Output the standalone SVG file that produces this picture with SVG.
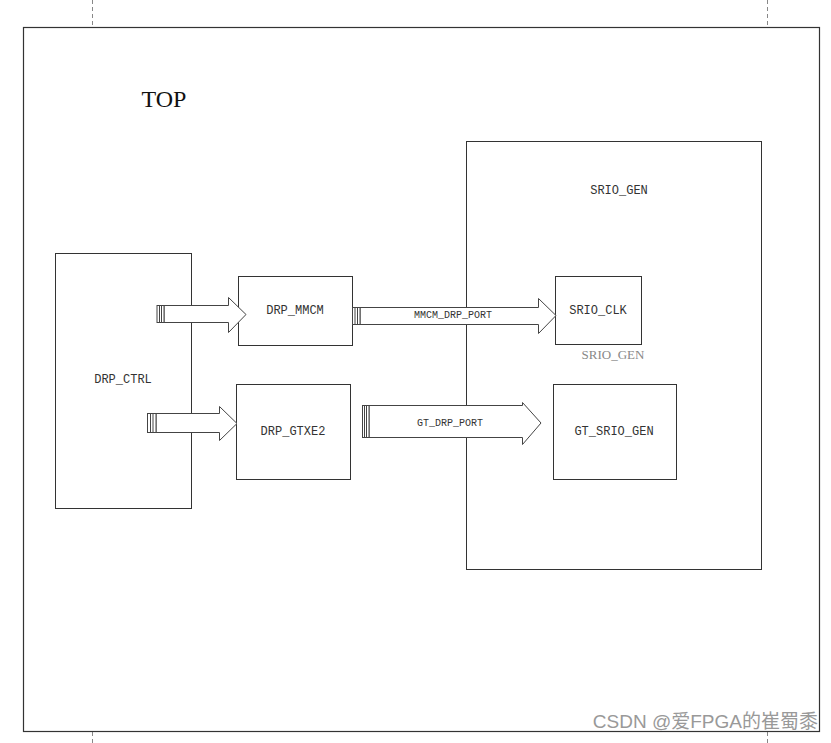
<svg xmlns="http://www.w3.org/2000/svg" width="831" height="743" viewBox="0 0 831 743">
<style>
.box{fill:none;stroke:#333;stroke-width:1}
.lbl{font-family:"Liberation Mono","DejaVu Sans Mono",monospace;font-size:12px;fill:#333;text-anchor:middle;dominant-baseline:central}
.plbl{font-size:10px}
.arr{fill:#fff;stroke:#444;stroke-width:1}
.dash{stroke:#888;stroke-width:1;stroke-dasharray:4,3}
</style>
<rect x="0" y="0" width="831" height="743" fill="#fff"/>
<line class="dash" x1="92.5" y1="0" x2="92.5" y2="26"/>
<line class="dash" x1="767.5" y1="0" x2="767.5" y2="26"/>
<line class="dash" x1="92.5" y1="732" x2="92.5" y2="743"/>
<line class="dash" x1="767.5" y1="732" x2="767.5" y2="743"/>
<g id="TOP">
<rect x="23.5" y="27.5" width="796" height="704" fill="none" stroke="#333" stroke-width="1.2"/>
<text x="164" y="99" font-family="'Liberation Serif',serif" font-size="24" fill="#111" text-anchor="middle" dominant-baseline="central">TOP</text>
</g>
<g id="SRIO_GEN">
<rect class="box" x="466.5" y="141.5" width="295" height="428"/>
<text class="lbl" x="619" y="191">SRIO_GEN</text>
</g>
<g id="DRP_CTRL">
<rect class="box" x="55.5" y="253.5" width="136" height="255"/>
<text class="lbl" x="123" y="380">DRP_CTRL</text>
</g>
<g id="DRP_MMCM">
<rect class="box" x="238.5" y="276.5" width="114" height="69"/>
<text class="lbl" x="295" y="311">DRP_MMCM</text>
</g>
<g id="DRP_GTXE2">
<rect class="box" x="236.5" y="384.5" width="114" height="95"/>
<text class="lbl" x="293" y="432">DRP_GTXE2</text>
</g>
<g id="SRIO_CLK">
<rect class="box" x="555.5" y="276.5" width="86" height="68"/>
<text class="lbl" x="598" y="311">SRIO_CLK</text>
<text x="613" y="354" font-family="'Liberation Serif',serif" font-size="13" fill="#888" text-anchor="middle" dominant-baseline="central">SRIO_GEN</text>
</g>
<g id="GT_SRIO_GEN">
<rect class="box" x="553.5" y="384.5" width="123" height="95"/>
<text class="lbl" x="614" y="432">GT_SRIO_GEN</text>
</g>
<g id="connectors">
<g>
<path class="arr" d="M164 305.5 H228.5 V297.5 L246 314.5 L228.5 332.5 V322.5 H164 Z"/>
<rect x="157" y="305.5" width="7" height="17" fill="#fff" stroke="#444" stroke-width="1"/>
<line x1="159.5" y1="305.5" x2="159.5" y2="322.5" stroke="#444"/><line x1="161.5" y1="305.5" x2="161.5" y2="322.5" stroke="#444"/>
</g>
<g>
<path class="arr" d="M156 413.5 H219.5 V406.5 L237 423.5 L219.5 440.5 V432.5 H156 Z"/>
<rect x="147.5" y="413.5" width="8.5" height="19" fill="#fff" stroke="#444" stroke-width="1"/>
<line x1="150.5" y1="413.5" x2="150.5" y2="432.5" stroke="#444"/><line x1="153" y1="413.5" x2="153" y2="432.5" stroke="#444"/>
</g>
<g>
<path class="arr" d="M360 307.5 H538.5 V298.5 L556 315.5 L538.5 333.5 V324.5 H360 Z"/>
<rect x="352.5" y="307.5" width="7.5" height="17" fill="#fff" stroke="#444" stroke-width="1"/>
<line x1="355" y1="307.5" x2="355" y2="324.5" stroke="#444"/><line x1="357.5" y1="307.5" x2="357.5" y2="324.5" stroke="#444"/>
<text class="lbl plbl" x="453" y="315">MMCM_DRP_PORT</text>
</g>
<g>
<path class="arr" d="M369 405.5 H522.5 V402.5 L541 423 L522.5 444.5 V437.5 H369 Z"/>
<rect x="362.5" y="405.5" width="6.5" height="32" fill="#fff" stroke="#444" stroke-width="1"/>
<line x1="364.5" y1="405.5" x2="364.5" y2="437.5" stroke="#444"/><line x1="366.5" y1="405.5" x2="366.5" y2="437.5" stroke="#444"/>
<text class="lbl plbl" x="450" y="423">GT_DRP_PORT</text>
</g>
</g>
<text x="818" y="721" font-family="'Liberation Sans','Noto Sans CJK SC',sans-serif" font-size="19" fill="#999" text-anchor="end" dominant-baseline="central">CSDN @爱FPGA的崔蜀黍</text>
</svg>
